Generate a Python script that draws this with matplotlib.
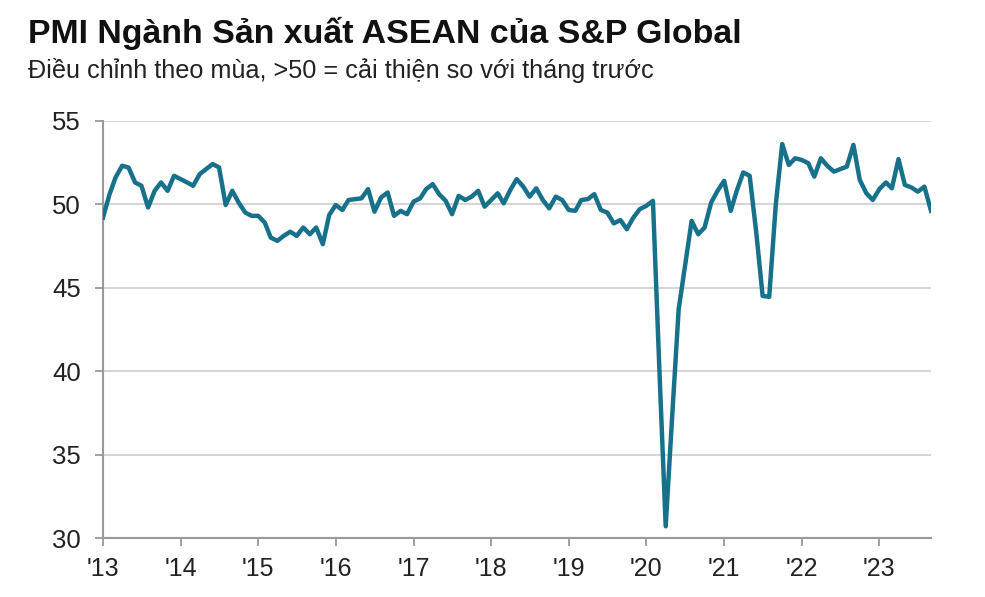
import matplotlib
matplotlib.use("Agg")
from matplotlib import pyplot as plt
from matplotlib import dates as mdates
import pandas as pd

# PMI theo tháng, 01/2013 - 09/2023
pmi_2013 = [49.2, 50.6, 51.6, 52.3, 52.2, 51.3, 51.1, 49.8, 50.8, 51.3, 50.8, 51.7]
pmi_2014 = [51.5, 51.3, 51.1, 51.8, 52.1, 52.4, 52.2, 49.95, 50.8, 50.1, 49.5, 49.3]
pmi_2015 = [49.3, 48.9, 48.0, 47.8, 48.1, 48.35, 48.1, 48.6, 48.2, 48.6, 47.6, 49.35]
pmi_2016 = [49.95, 49.65, 50.25, 50.3, 50.35, 50.9, 49.55, 50.4, 50.7, 49.3, 49.6, 49.4]
pmi_2017 = [50.15, 50.35, 50.9, 51.2, 50.6, 50.2, 49.4, 50.5, 50.25, 50.45, 50.8, 49.85]
pmi_2018 = [50.25, 50.65, 50.05, 50.85, 51.5, 51.05, 50.45, 50.95, 50.25, 49.75, 50.45, 50.25]
pmi_2019 = [49.65, 49.6, 50.25, 50.3, 50.6, 49.65, 49.5, 48.85, 49.05, 48.5, 49.2, 49.7]
pmi_2020 = [49.9, 50.2, 40.5, 30.7, 37.2, 43.7, 46.3, 49.0, 48.2, 48.6, 50.1, 50.8]
pmi_2021 = [51.4, 49.6, 50.8, 51.9, 51.7, 48.3, 44.5, 44.45, 50.0, 53.6, 52.35, 52.75]
pmi_2022 = [52.65, 52.45, 51.65, 52.75, 52.3, 51.95, 52.1, 52.25, 53.55, 51.45, 50.65, 50.25]
pmi_2023 = [50.9, 51.3, 50.95, 52.7, 51.15, 51.0, 50.75, 51.05, 49.6]

pmi = (pmi_2013 + pmi_2014 + pmi_2015 + pmi_2016 + pmi_2017 + pmi_2018
       + pmi_2019 + pmi_2020 + pmi_2021 + pmi_2022 + pmi_2023)
thang = pd.date_range("2013-01-01", periods=len(pmi), freq="MS")

tieu_de = "PMI Ngành Sản xuất ASEAN của S&P Global"
phu_de = "Điều chỉnh theo mùa, >50 = cải thiện so với tháng trước"

plt.rcParams["font.family"] = ["Liberation Sans", "DejaVu Sans"]

fig = plt.figure(figsize=(9.85, 5.97), dpi=100)
ax = fig.add_axes([103 / 985, 59 / 597, 828 / 985, 417.3 / 597])

ax.plot(thang, pmi, color="#17718a", lw=3.2, solid_joinstyle="round", zorder=3)

ax.set_ylim(30, 55)
ax.set_yticks([30, 35, 40, 45, 50, 55])
ax.set_xlim(thang[0], thang[-1])
ax.xaxis.set_major_locator(mdates.YearLocator())
ax.xaxis.set_major_formatter(mdates.DateFormatter("'%y"))

ax.grid(axis="y", color="#d6d6d6", lw=1.5)
ax.set_axisbelow(True)
for s in ["top", "right"]:
    ax.spines[s].set_visible(False)
for s in ["left", "bottom"]:
    ax.spines[s].set_color("#9a9a9a")
    ax.spines[s].set_linewidth(1.5)

ax.tick_params(axis="y", length=6, width=1.3, color="#9a9a9a", pad=10,
               labelsize=18.5, labelcolor="#222222")
ax.tick_params(axis="x", length=6, width=1.3, color="#9a9a9a", pad=8,
               labelsize=18, labelcolor="#222222")

fig.text(28 / 985, 1 - 43 / 597, tieu_de, fontsize=24.4, fontweight="bold", color="#111111")
fig.text(28 / 985, 1 - 78 / 597, phu_de, fontsize=18.2, color="#222222")

fig.savefig("out.png", dpi=100)
